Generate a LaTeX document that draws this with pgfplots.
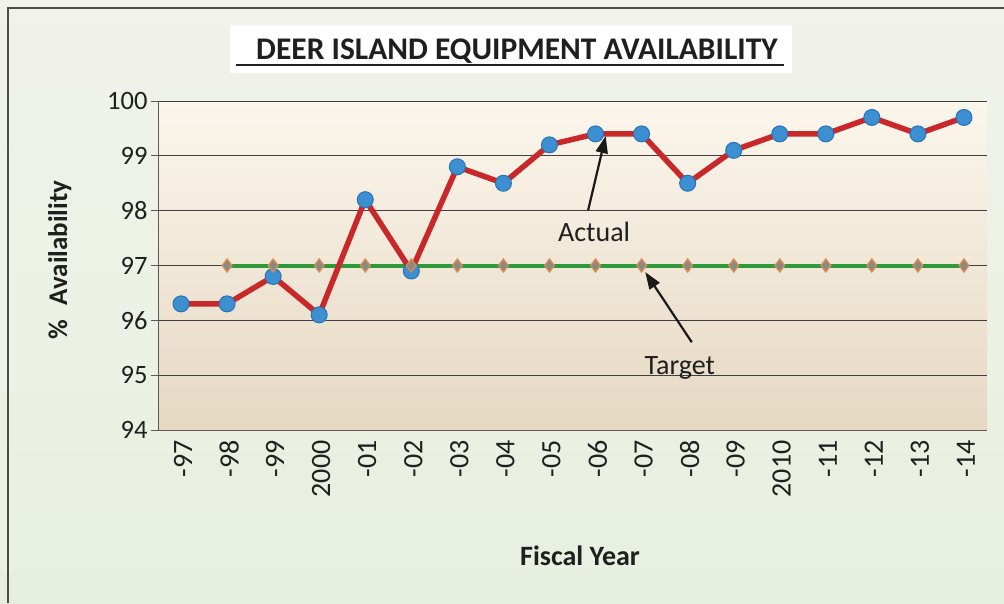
\documentclass[border=0pt]{standalone}
\usepackage{pgfplots}
\pgfplotsset{compat=1.18}
\usepackage{pgfplotstable}
\usepackage{fontspec}
\setmainfont{Carlito}
\usetikzlibrary{arrows.meta}

\definecolor{actualred}{HTML}{C8282A}
\definecolor{markblue}{HTML}{3C90D2}
\definecolor{markedge}{HTML}{2B72B4}
\definecolor{targetgreen}{HTML}{2E9A3C}
\definecolor{diamondfill}{HTML}{8A8A82}
\definecolor{diamondedge}{HTML}{DC8C52}
\definecolor{outertop}{HTML}{F1F2EA}
\definecolor{outerbottom}{HTML}{E7F0E0}
\definecolor{plottop}{HTML}{FBF6EC}
\definecolor{plotmid}{HTML}{F6EFE0}
\definecolor{plotbottom}{HTML}{E6D8C2}

% Equipment availability by fiscal year (index 0 = FY-97 ... 17 = FY-14)
\pgfplotstableread{
idx avail
0  96.3
1  96.3
2  96.8
3  96.1
4  98.2
5  96.9
6  98.8
7  98.5
8  99.2
9  99.4
10 99.4
11 98.5
12 99.1
13 99.4
14 99.4
15 99.7
16 99.4
17 99.7
}\actualtable

\pgfplotstableread{
idx target
1  97
2  97
3  97
4  97
5  97
6  97
7  97
8  97
9  97
10 97
11 97
12 97
13 97
14 97
15 97
16 97
17 97
}\targettable

\begin{document}
\begin{tikzpicture}[x=1pt,y=1pt]
\useasboundingbox (0,0) rectangle (1004,603);
% chart area background and frame
\shade[top color=outertop, bottom color=outerbottom] (0,0) rectangle (1004,603);
\draw[gray!60!black, line width=1.2pt] (8,0) -- (8,595) -- (1004,595);

% title
\fill[white] (230,530) rectangle (792,578);
\node[anchor=base west, inner sep=0pt, font=\fontsize{31.5}{36}\selectfont\bfseries, text=black!88]
  at (256,543) {DEER ISLAND EQUIPMENT AVAILABILITY};
\draw[black!88, line width=2.4pt] (236,538) -- (784,538);

\begin{axis}[
  at={(158pt,173pt)}, anchor=south west,
  scale only axis, width=829pt, height=329pt,
  xmin=-0.5, xmax=17.5, ymin=94, ymax=100,
  axis x line*=bottom, axis y line*=left,
  axis line style={gray!70!black, line width=1pt},
  tick align=outside,
  xtick={0,...,17},
  xticklabels={-97,-98,-99,2000,-01,-02,-03,-04,-05,-06,-07,-08,-09,2010,-11,-12,-13,-14},
  xtick style={draw=none},
  minor xtick={-0.5,0.5,...,17.5},
  minor tick length=9pt,
  minor x tick style={gray!70!black, line width=1pt},
  ytick={94,95,96,97,98,99,100},
  major tick length=7pt,
  ytick style={gray!70!black, line width=1pt},
  ymajorgrids,
  major grid style={gray!50!black, line width=0.9pt},
  /pgf/number format/assume math mode=true,
  xticklabel style={rotate=90, anchor=east, font=\fontsize{28}{30}\selectfont, text=black!88, yshift=-2pt},
  yticklabel style={font=\fontsize{26.5}{30}\selectfont, text=black!88},
  axis background/.style={shade, top color=plottop, middle color=plotmid, bottom color=plotbottom},
  clip=false,
]
% target line first, then actual with markers, then target markers on top
\addplot[targetgreen, line width=4pt] table[x=idx, y=target] {\targettable};
\addplot[actualred, line width=5.5pt, mark=*, mark size=8pt,
  mark options={fill=markblue, draw=markedge, line width=1pt}] table[x=idx, y=avail] {\actualtable};
\addplot[only marks, mark=diamond*, mark size=6.5pt,
  mark options={fill=diamondfill, draw=diamondedge, line width=1.3pt}] table[x=idx, y=target] {\targettable};

% annotations
\draw[black!90, line width=2.2pt, -{Triangle[length=17pt, width=12pt]}]
  (axis cs:8.84,98.01) -- (axis cs:9.22,99.36);
\node[anchor=base, font=\fontsize{28}{32}\selectfont, text=black!88] at (axis cs:8.97,97.43) {Actual};
\draw[black!90, line width=2.2pt, -{Triangle[length=17pt, width=12pt]}]
  (axis cs:11.09,95.60) -- (axis cs:10.08,96.88);
\node[anchor=base, font=\fontsize{28}{32}\selectfont, text=black!88] at (axis cs:10.83,95.02) {Target};
\end{axis}

% axis titles
\node[rotate=90, anchor=base, inner sep=0pt, font=\fontsize{27}{30}\selectfont\bfseries, text=black!88]
  at (67,343) {\%\hspace{14pt}Availability};
\node[anchor=base, inner sep=0pt, font=\fontsize{28}{32}\selectfont\bfseries, text=black!88]
  at (580,38) {Fiscal Year};
\end{tikzpicture}
\end{document}
